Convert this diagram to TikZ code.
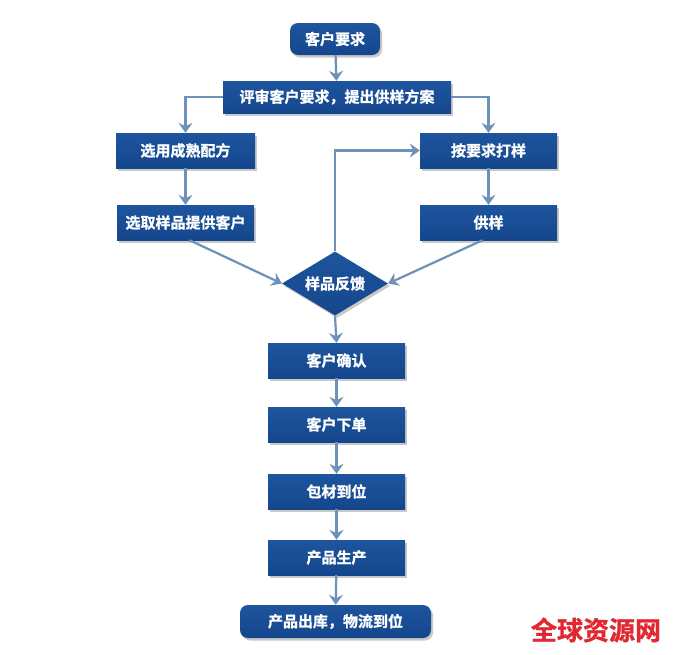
\documentclass[tikz,border=0pt]{standalone}
\usepackage{fontspec}
\newfontfamily\cjk[FakeBold=1.2]{Noto Sans CJK SC Bold}
\usetikzlibrary{shapes.geometric,arrows.meta,shadows,calc}
\definecolor{boxblue}{RGB}{20,70,140}
\definecolor{boxtop}{RGB}{30,85,158}
\definecolor{arrowblue}{RGB}{110,145,185}
\definecolor{wmred}{RGB}{225,40,50}
\tikzset{
  base/.style={draw=none, top color=boxtop, bottom color=boxblue, text=white,
    font=\cjk\fontsize{15}{17}\selectfont, inner sep=0pt,
    drop shadow={shadow xshift=2pt, shadow yshift=-2.5pt, opacity=0.35, fill=black!60}},
  stepbox/.style={base, rectangle},
  roundbox/.style={base, rectangle, rounded corners=8pt},
  decision/.style={base, diamond, aspect=1.65},
  conn/.style={draw=arrowblue, line width=2.2pt, -{Stealth[length=10pt,width=14pt,inset=3.5pt]}}
}
\begin{document}
\begin{tikzpicture}[x=1pt,y=-1pt]
\useasboundingbox (0,0) rectangle (680,654);
\fill[white] (0,0) rectangle (680,654);
\node[roundbox, minimum width=90pt, minimum height=32pt] (req) at (335,39) {客户要求};
\node[stepbox, minimum width=228pt, minimum height=32pt] (rev) at (337,97) {评审客户要求，提出供样方案};
\node[stepbox, minimum width=139pt, minimum height=35pt] (mat) at (185.5,150.5) {选用成熟配方};
\node[stepbox, minimum width=137pt, minimum height=35pt] (sel) at (185.5,222.5) {选取样品提供客户};
\node[stepbox, minimum width=137pt, minimum height=35pt] (mk) at (488.5,150.5) {按要求打样};
\node[stepbox, minimum width=137pt, minimum height=35pt] (sup) at (488.5,222.5) {供样};
\node[decision, minimum width=106pt, minimum height=64pt] (fb) at (335,283.5) {样品反馈};
\node[stepbox, minimum width=137pt, minimum height=35pt] (cf) at (336.5,360.5) {客户确认};
\node[stepbox, minimum width=137pt, minimum height=35pt] (od) at (336.5,424.5) {客户下单};
\node[stepbox, minimum width=137pt, minimum height=35pt] (pk) at (336.5,491.5) {包材到位};
\node[stepbox, minimum width=137pt, minimum height=35pt] (pr) at (336.5,557.5) {产品生产};
\node[roundbox, minimum width=191pt, minimum height=33pt] (out) at (335.5,621.5) {产品出库，物流到位};
\node[text=wmred, font=\cjk\fontsize{26}{28}\selectfont, inner sep=0pt] (wm) at (596,630) {全球资源网};

\draw[conn] (req) -- (rev);
\draw[conn] (rev.west) -| (mat.north);
\draw[conn] (rev.east) -| (mk.north);
\draw[conn] (mat) -- (sel);
\draw[conn] (mk) -- (sup);
\draw[conn] ([xshift=4pt]sel.south) -- (fb.west);
\draw[conn] ([xshift=-6pt]sup.south) -- (fb.east);
\draw[conn] (fb.north) |- (mk.west);
\draw[conn] (fb.south) -- (cf.north);
\draw[conn] (cf) -- (od);
\draw[conn] (od) -- (pk);
\draw[conn] (pk) -- (pr);
\draw[conn] (pr) -- (out);
\end{tikzpicture}
\end{document}
